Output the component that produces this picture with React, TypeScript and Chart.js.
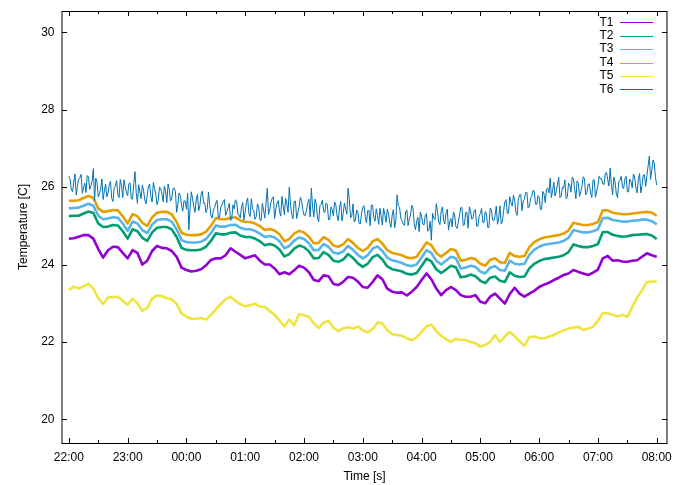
import React, { useEffect, useRef } from "react";
import { Chart, registerables } from "chart.js";

Chart.register(...registerables);

// x in minutes after 22:00
const X_MIN = -7;
const X_MAX = 610.5;
const Y_MIN = 19.39;
const Y_MAX = 30.55;
const X_SPAN = 600; // data cover 22:00 .. 08:00 (minutes)

const HOUR_TICKS = [0, 60, 120, 180, 240, 300, 360, 420, 480, 540, 600];
const HOUR_LABELS = ["22:00", "23:00", "00:00", "01:00", "02:00", "03:00", "04:00", "05:00", "06:00", "07:00", "08:00"];
const HALF_HOUR_TICKS = [30, 90, 150, 210, 270, 330, 390, 450, 510, 570];
const Y_TICKS = [20, 22, 24, 26, 28, 30];

const SERIES_NAMES = ["T1", "T2", "T3", "T4", "T5", "T6"];
const SERIES_COLORS = ["#9400d3", "#009e73", "#56b4e9", "#e69f00", "#f0e442", "#0072b2"];

const T1 = [
  24.67, 24.68, 24.72, 24.76, 24.76, 24.67, 24.40, 24.18, 24.37, 24.46, 24.45, 24.30, 24.16, 24.37, 24.30, 24.00,
  24.10, 24.35, 24.48, 24.43, 24.42, 24.35, 24.20, 23.92, 23.86, 23.82, 23.84, 23.88, 23.98, 24.12, 24.16, 24.16,
  24.24, 24.42, 24.33, 24.25, 24.16, 24.20, 24.24,
  24.10, 24.00, 24.00, 23.90, 23.75, 23.80, 23.75, 23.85, 23.97, 23.92, 23.80, 23.60, 23.57, 23.72, 23.70, 23.50,
  23.47, 23.55, 23.68, 23.66, 23.56, 23.42, 23.40, 23.55, 23.72, 23.62, 23.38, 23.30, 23.27, 23.28, 23.20, 23.30,
  23.42, 23.60, 23.77, 23.62, 23.38, 23.21, 23.34, 23.42, 23.34, 23.21, 23.17, 23.17, 23.21, 23.04, 23.00, 23.17,
  23.25, 23.12, 22.99, 23.24, 23.40, 23.25, 23.17, 23.25, 23.32, 23.42, 23.48, 23.53, 23.60, 23.66, 23.73, 23.77,
  23.86, 23.81, 23.77, 23.73, 23.79, 23.87, 24.16, 24.22, 24.10, 24.11, 24.08, 24.07, 24.10, 24.11, 24.20, 24.29,
  24.24, 24.20,
];

const T2 = [
  25.25, 25.26, 25.26, 25.32, 25.37, 25.33, 25.06, 24.97, 24.98, 25.02, 25.01, 24.86, 24.67, 24.91, 24.86, 24.69,
  24.61, 24.83, 24.95, 24.97, 24.97, 24.91, 24.71, 24.43, 24.38, 24.37, 24.37, 24.39, 24.46, 24.61, 24.81, 24.78,
  24.78, 24.82, 24.83, 24.75, 24.71, 24.71, 24.67, 24.60, 24.50, 24.53, 24.49, 24.39, 24.21, 24.27, 24.41, 24.49,
  24.45, 24.34, 24.16, 24.17, 24.32, 24.25, 24.10, 24.07, 24.13, 24.27, 24.17, 24.03, 23.94, 24.02, 24.19, 24.25,
  24.13, 23.95, 23.88, 23.85, 23.82, 23.76, 23.74, 23.78, 23.96, 24.15, 24.08, 23.88, 23.78, 23.87, 23.97, 23.93,
  23.67, 23.69, 23.74, 23.70, 23.58, 23.52, 23.66, 23.69, 23.58, 23.55, 23.80, 23.71, 23.68, 23.69, 23.90, 24.02,
  24.09, 24.14, 24.16, 24.18, 24.20, 24.24, 24.32, 24.52, 24.48, 24.45, 24.45, 24.48, 24.53, 24.84, 24.84, 24.77,
  24.74, 24.72, 24.73, 24.76, 24.77, 24.78, 24.79, 24.75, 24.66,
];

const T3 = [
  25.45, 25.46, 25.47, 25.52, 25.57, 25.52, 25.26, 25.17, 25.19, 25.22, 25.21, 25.06, 24.87, 25.11, 25.06, 24.89,
  24.81, 25.03, 25.15, 25.17, 25.17, 25.11, 24.91, 24.63, 24.58, 24.57, 24.57, 24.59, 24.66, 24.81, 25.01, 24.98,
  24.98, 25.02, 25.03, 24.95, 24.91, 24.91, 24.87, 24.80, 24.71, 24.74, 24.70, 24.60, 24.42, 24.48, 24.62, 24.70,
  24.66, 24.55, 24.37, 24.38, 24.53, 24.46, 24.31, 24.28, 24.34, 24.48, 24.38, 24.25, 24.16, 24.24, 24.41, 24.47,
  24.35, 24.18, 24.11, 24.08, 24.04, 23.98, 23.96, 24.00, 24.18, 24.37, 24.30, 24.10, 24.00, 24.10, 24.20, 24.16,
  23.90, 23.92, 23.97, 23.94, 23.82, 23.77, 23.92, 23.96, 23.86, 23.84, 24.10, 24.02, 24.00, 24.02, 24.25, 24.38,
  24.46, 24.51, 24.53, 24.55, 24.57, 24.61, 24.69, 24.89, 24.86, 24.83, 24.83, 24.86, 24.91, 25.20, 25.21, 25.15,
  25.13, 25.11, 25.11, 25.13, 25.14, 25.16, 25.16, 25.12, 25.04,
];

const T4 = [
  25.65, 25.65, 25.66, 25.72, 25.77, 25.72, 25.45, 25.36, 25.38, 25.41, 25.40, 25.25, 25.06, 25.30, 25.25, 25.08,
  25.00, 25.22, 25.34, 25.36, 25.36, 25.30, 25.10, 24.82, 24.77, 24.76, 24.76, 24.78, 24.85, 25.00, 25.20, 25.17,
  25.17, 25.21, 25.22, 25.14, 25.10, 25.10, 25.06, 24.99, 24.89, 24.92, 24.88, 24.78, 24.60, 24.66, 24.80, 24.87,
  24.83, 24.72, 24.55, 24.56, 24.71, 24.64, 24.49, 24.46, 24.52, 24.66, 24.56, 24.43, 24.35, 24.43, 24.60, 24.66,
  24.54, 24.37, 24.30, 24.27, 24.24, 24.18, 24.16, 24.20, 24.38, 24.57, 24.50, 24.30, 24.20, 24.30, 24.40, 24.36,
  24.10, 24.12, 24.17, 24.14, 24.02, 23.97, 24.12, 24.16, 24.06, 24.04, 24.30, 24.22, 24.20, 24.22, 24.45, 24.58,
  24.65, 24.70, 24.72, 24.74, 24.76, 24.80, 24.88, 25.08, 25.05, 25.02, 25.02, 25.05, 25.10, 25.40, 25.40, 25.34,
  25.32, 25.30, 25.30, 25.32, 25.33, 25.35, 25.36, 25.34, 25.26,
];

const T5 = [
  23.34, 23.43, 23.38, 23.44, 23.50, 23.38, 23.13, 22.98, 23.15, 23.16, 23.17, 23.06, 22.96, 23.12, 23.00, 22.80,
  22.88, 23.12, 23.20, 23.18, 23.13, 23.10, 22.98, 22.74, 22.65, 22.60, 22.60, 22.62, 22.58, 22.70, 22.84, 22.98,
  23.10, 23.17, 23.06, 22.98, 22.92, 22.95, 22.99, 22.91, 22.91, 22.80, 22.70, 22.55, 22.40, 22.58, 22.43, 22.72,
  22.69, 22.65, 22.48, 22.36, 22.50, 22.55, 22.37, 22.28, 22.35, 22.38, 22.34, 22.40, 22.30,
  22.25, 22.33, 22.50, 22.48, 22.30, 22.20, 22.18, 22.16, 22.09, 22.05, 22.12, 22.26, 22.40, 22.45, 22.28, 22.16,
  22.07, 22.00, 22.08, 22.05, 22.05, 22.00, 21.97, 21.88, 21.92, 22.00, 22.18, 22.00, 22.14, 22.26, 22.15, 22.02,
  21.90, 22.13, 22.14, 22.10, 22.09, 22.14, 22.18, 22.25, 22.30, 22.35, 22.37, 22.39, 22.31, 22.35, 22.39, 22.55,
  22.74, 22.74, 22.70, 22.66, 22.70, 22.65, 22.90, 23.15, 23.33, 23.55, 23.56, 23.56,
];

const T6 = [
  26.28, 26.20, 25.93, 25.88, 26.13, 26.34, 25.80, 26.02, 26.20, 26.24, 26.33, 25.84, 25.98, 26.10, 25.86, 26.30,
  26.26, 25.94, 26.03, 26.16, 26.48, 25.66,
  26.23, 26.12, 25.75, 25.83, 25.95, 26.21, 25.68, 25.90, 26.08, 25.75, 25.85, 26.06, 26.15, 25.71, 25.63, 25.98,
  26.03, 26.17, 25.81, 25.73, 26.20, 26.05, 25.73, 26.19, 26.01, 25.87, 25.78, 26.09, 26.11, 25.69,
  25.70, 26.10, 26.40, 25.86,
  25.58, 26.06, 25.88, 25.70, 26.05, 25.92, 25.67, 25.57, 25.78, 26.03, 26.08, 25.74, 25.62, 26.12, 25.96, 25.81,
  25.55, 25.66, 26.00, 25.97, 25.82, 25.62, 26.03, 25.89, 25.60, 26.08, 25.93, 25.64, 25.70, 25.96, 25.98, 25.88,
  25.35, 25.56, 25.85, 25.78, 25.54, 25.38, 25.65, 25.64, 25.43, 25.84, 24.90, 25.48, 25.88, 25.70, 25.49, 25.35,
  25.69, 25.81, 25.39, 25.52, 25.82, 25.90, 25.58, 25.59, 25.34, 25.44, 25.87, 25.55,
  25.26, 25.20, 25.41, 25.47, 25.59, 25.66, 25.21, 25.22, 25.48, 25.54, 25.62, 25.68, 25.27, 25.36, 25.47, 25.58,
  25.14, 25.18, 25.54, 25.44, 25.67, 25.64, 25.32, 25.28, 25.20, 25.50, 25.60, 25.15, 25.37, 25.61, 25.72, 25.32,
  25.24, 25.70, 25.44, 25.39, 25.17, 25.24, 25.57, 25.49,
  25.15, 25.14, 25.58, 25.41, 25.20, 25.60, 25.97, 25.29,
  25.41, 25.61, 25.71, 25.75, 25.19, 25.43, 25.59, 25.65, 25.37, 25.25, 25.76, 25.51, 25.29, 25.71, 25.57, 25.35,
  26.00, 25.53,
  25.30, 25.18, 25.63, 25.64, 25.19, 25.35, 25.49, 25.73, 25.66, 25.42, 25.28, 25.27, 25.39, 25.58, 25.69, 25.23,
  25.97, 25.50, 25.23, 25.69, 25.57, 25.20,
  25.11, 25.52, 25.56, 25.66, 25.38, 25.34, 25.59, 25.56, 25.16, 25.16, 25.49, 25.42, 25.26, 25.62, 25.54, 25.26,
  25.13, 25.48, 25.63, 25.13, 25.32, 25.59, 25.43, 25.30, 25.97, 25.68, 25.21, 25.25,
  25.57, 25.10, 25.15, 25.41, 25.35, 25.06, 25.05, 25.33, 25.48, 25.52, 25.24, 25.08, 25.39, 25.40, 25.00, 25.54,
  25.53, 25.22, 25.12, 25.44, 25.27, 25.04, 25.45, 25.25,
  25.02, 25.45, 25.29, 25.09, 25.43, 25.31, 25.08, 24.96, 25.28, 25.42, 24.95, 25.13, 25.80, 25.51, 25.48, 25.20,
  25.13, 25.05, 25.01, 25.36, 25.41, 25.01, 25.18, 25.28, 25.53, 25.47, 25.05, 24.90,
  25.12, 25.22, 24.85, 25.36, 25.25, 25.04, 25.02, 25.26, 25.32, 24.86, 24.90, 25.12, 24.63, 25.32, 25.20, 25.16,
  25.57, 25.38, 25.10, 25.03, 25.38, 25.49, 25.15, 25.05,
  25.33, 25.43, 24.89, 25.12, 25.19, 24.97, 25.36, 25.28, 24.98, 24.93, 25.09, 25.28,
  25.47, 25.47, 25.01, 25.03, 25.35, 25.35, 24.94, 25.49, 25.39, 25.17, 25.21, 25.39, 25.42, 24.99, 24.99, 25.25,
  25.32, 25.45, 25.09, 25.09, 25.37, 25.31, 24.96, 24.96, 25.46, 25.42, 25.15, 25.13, 25.26, 25.51, 25.04, 25.20,
  25.52, 25.05, 25.10, 25.40,
  25.62, 25.68, 25.32, 25.33, 25.75, 25.60, 25.51, 25.79, 25.66, 25.35, 25.27, 25.67, 25.80, 25.81, 25.39, 25.64,
  25.69, 25.86, 25.87, 25.46, 25.49, 25.72, 25.76, 25.92, 25.90, 25.56, 25.55, 25.78, 25.75, 25.43, 25.42, 25.89,
  25.82, 25.60, 25.95, 25.98,
  25.85, 26.23, 25.73, 25.92, 26.13, 25.77, 25.90, 26.08, 26.25, 25.73, 25.77, 26.00, 25.97, 26.19, 25.70, 25.75,
  26.10, 26.07, 25.87, 26.26,
  26.22, 25.94, 25.70, 26.16, 26.10, 25.76, 25.88, 26.02, 26.27, 26.22, 25.80, 25.86, 26.08, 26.08, 25.85, 25.73,
  26.18, 26.19, 25.74, 25.90, 26.04, 26.28, 26.21, 26.22,
  26.08, 26.07, 26.35, 26.38, 26.19, 26.03, 26.49, 26.07,
  25.80, 26.26, 26.14, 25.82, 25.73, 26.14, 26.18, 26.28, 26.00, 25.96, 26.21, 26.28,
  25.88, 25.88, 26.21, 26.14, 25.98, 26.34, 26.26, 25.98, 25.85, 26.20, 26.35, 25.85, 26.04, 26.31, 26.32, 26.02,
  26.30, 26.55, 26.80, 26.20, 26.45, 26.70, 26.62, 26.25, 26.05,
];

const SERIES_VALUES = [T1, T2, T3, T4, T5, T6];
const SERIES_WIDTHS = [2.6, 2.6, 2.6, 2.6, 2.6, 1];

const FONT_FAMILY = "'Liberation Sans', Arial, sans-serif";

const framePlugin = {
  id: "gnuplotFrame",
  afterDatasetsDraw(chart: any) {
    const { ctx, chartArea, scales } = chart;
    const { left, right, top, bottom } = chartArea;
    const xs = scales.x;
    const ys = scales.y;
    ctx.save();
    ctx.strokeStyle = "#000";
    ctx.lineWidth = 1;
    ctx.beginPath();
    ctx.moveTo(left, top + 0.5);
    ctx.lineTo(right, top + 0.5);
    ctx.moveTo(left, bottom + 0.5);
    ctx.lineTo(right, bottom + 0.5);
    ctx.moveTo(left, top);
    ctx.lineTo(left, bottom + 1);
    ctx.moveTo(right, top);
    ctx.lineTo(right, bottom + 1);
    HOUR_TICKS.forEach((v) => {
      const px = Math.round(xs.getPixelForValue(v)) + 0.5;
      ctx.moveTo(px, bottom);
      ctx.lineTo(px, bottom - 5);
      ctx.moveTo(px, top);
      ctx.lineTo(px, top + 5);
    });
    HALF_HOUR_TICKS.forEach((v) => {
      const px = Math.round(xs.getPixelForValue(v)) + 0.5;
      ctx.moveTo(px, bottom);
      ctx.lineTo(px, bottom - 3);
      ctx.moveTo(px, top);
      ctx.lineTo(px, top + 3);
    });
    Y_TICKS.forEach((v) => {
      const py = Math.round(ys.getPixelForValue(v)) + 0.5;
      ctx.moveTo(left, py);
      ctx.lineTo(left + 5, py);
      ctx.moveTo(right, py);
      ctx.lineTo(right - 5, py);
    });
    ctx.stroke();
    ctx.restore();
  },
  afterDraw(chart: any) {
    const { ctx } = chart;
    ctx.save();
    ctx.font = "12px " + FONT_FAMILY;
    ctx.textAlign = "right";
    ctx.textBaseline = "middle";
    SERIES_NAMES.forEach((name, i) => {
      const yc = 22.3 + i * 13.4;
      ctx.fillStyle = "#000";
      ctx.fillText(name, 613.5, yc);
      const ly = Math.round(yc) + 0.5;
      ctx.strokeStyle = SERIES_COLORS[i];
      ctx.lineWidth = 1;
      ctx.beginPath();
      ctx.moveTo(620, ly);
      ctx.lineTo(653, ly);
      ctx.stroke();
    });
    ctx.restore();
  },
};

export default function App() {
  const canvasRef = useRef<HTMLCanvasElement | null>(null);

  useEffect(() => {
    document.body.style.margin = "0";
    const canvas = canvasRef.current;
    if (!canvas) return;

    const datasets = SERIES_VALUES.map((vals, si) => {
      const step = X_SPAN / (vals.length - 1);
      return {
        label: SERIES_NAMES[si],
        data: vals.map((v, i) => ({ x: i * step, y: v })),
        borderColor: SERIES_COLORS[si],
        backgroundColor: SERIES_COLORS[si],
        borderWidth: SERIES_WIDTHS[si],
        pointRadius: 0,
        tension: 0,
        fill: false,
        borderJoinStyle: "round" as const,
        order: 6 - si,
      };
    });

    const chart = new Chart(canvas, {
      type: "line",
      data: { datasets },
      plugins: [framePlugin],
      options: {
        animation: false,
        responsive: false,
        maintainAspectRatio: false,
        devicePixelRatio: 1,
        events: [],
        parsing: false,
        layout: { padding: { left: 0, right: 10, top: 11, bottom: 0 } },
        font: { family: FONT_FAMILY, size: 12 },
        color: "#000",
        plugins: {
          legend: { display: false },
          tooltip: { enabled: false },
          title: { display: false },
        },
        scales: {
          x: {
            type: "linear",
            min: X_MIN,
            max: X_MAX,
            grid: { display: false, drawTicks: false, tickLength: 0 },
            border: { display: false },
            afterBuildTicks: (s: any) => {
              s.ticks = HOUR_TICKS.map((v) => ({ value: v }));
            },
            afterFit: (s: any) => {
              s.height = 42;
              s.paddingLeft = 0;
              s.paddingRight = 0;
            },
            ticks: {
              autoSkip: false,
              maxRotation: 0,
              minRotation: 0,
              padding: 7,
              color: "#000",
              font: { family: FONT_FAMILY, size: 12 },
              callback: (_v: any, i: number) => HOUR_LABELS[i],
            },
            title: {
              display: true,
              text: "Time [s]",
              color: "#000",
              font: { family: FONT_FAMILY, size: 12 },
              padding: { top: 0, bottom: 1 },
            },
          },
          y: {
            type: "linear",
            min: Y_MIN,
            max: Y_MAX,
            grid: { display: false, drawTicks: false, tickLength: 0 },
            border: { display: false },
            afterBuildTicks: (s: any) => {
              s.ticks = Y_TICKS.map((v) => ({ value: v }));
            },
            afterFit: (s: any) => {
              s.width = 62;
              s.paddingTop = 0;
              s.paddingBottom = 0;
            },
            ticks: {
              padding: 7.5,
              color: "#000",
              font: { family: FONT_FAMILY, size: 12 },
              callback: (v: any) => String(v),
            },
            title: {
              display: true,
              text: "Temperature [C]",
              color: "#000",
              font: { family: FONT_FAMILY, size: 12 },
              padding: { top: 16, bottom: 0 },
            },
          },
        },
      } as any,
    });

    return () => {
      chart.destroy();
    };
  }, []);

  return (
    <div style={{ width: 677, height: 485 }}>
      <canvas ref={canvasRef} width={677} height={485} style={{ display: "block" }} />
    </div>
  );
}
